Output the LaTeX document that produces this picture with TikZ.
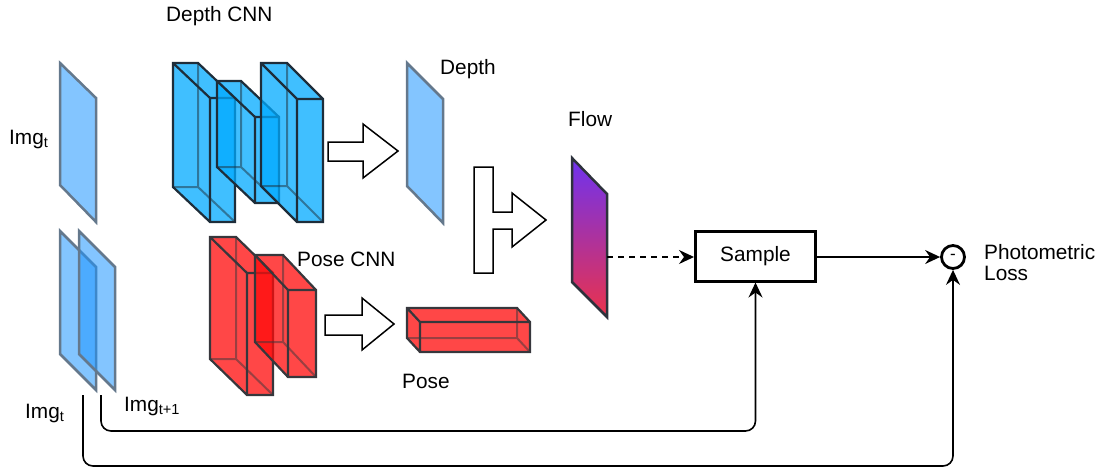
\documentclass[tikz,border=0pt]{standalone}
\usepackage{fontspec}
\setmainfont{Liberation Sans}
\usetikzlibrary{arrows.meta}

\definecolor{edgeblue}{RGB}{30,45,58}
\definecolor{edgered}{RGB}{55,55,60}
\definecolor{cnnblue}{RGB}{0,170,255}
\definecolor{cnnred}{RGB}{255,10,10}
\definecolor{planefill}{RGB}{30,150,255}
\definecolor{planeedge}{RGB}{100,120,140}
\definecolor{flowtop}{RGB}{110,50,240}
\definecolor{flowbot}{RGB}{235,50,75}
\definecolor{flowedge}{RGB}{45,50,60}

% transparent box: #1 fill, #2 edge colour, (#3,#4) front top-left,
% (#5,#6) front bottom-right, (#7,#8) offset of the back face
\newcommand\cuboid[8]{%
  \fill[#1, fill opacity=0.75]
    ({#3+(#7)},{#4+(#8)}) -- ({#5+(#7)},{#4+(#8)}) -- (#5,#4) -- (#5,#6)
    -- (#3,#6) -- ({#3+(#7)},{#6+(#8)}) -- cycle;
  \draw[#2, line width=2pt, draw opacity=0.5]
    ({#5+(#7)},{#4+(#8)}) -- ({#5+(#7)},{#6+(#8)}) -- ({#3+(#7)},{#6+(#8)})
    ({#5+(#7)},{#6+(#8)}) -- (#5,#6);
  \draw[#2, line width=2.2pt]
    ({#3+(#7)},{#4+(#8)}) -- ({#5+(#7)},{#4+(#8)}) -- (#5,#4) -- (#5,#6)
    -- (#3,#6) -- ({#3+(#7)},{#6+(#8)}) -- cycle
    ({#3+(#7)},{#4+(#8)}) -- (#3,#4) -- (#5,#4)
    (#3,#4) -- (#3,#6);
}

\tikzset{
  lbl/.style={inner sep=0pt, anchor=base west, font=\fontsize{20.8}{24}\selectfont},
  plane/.style={fill=planefill, fill opacity=0.55, draw=planeedge, line width=2.5pt},
  hollow/.style={fill=white, draw=black, line width=1.5pt},
  samplebox/.style={draw=black, line width=3pt, minimum width=120pt, minimum height=50pt,
    inner sep=0pt, font=\fontsize{20.8}{24}\selectfont},
  minusnode/.style={circle, draw=black, line width=2.8pt, minimum size=23pt, inner sep=0pt,
    font=\fontsize{17}{18}\selectfont},
  conn/.style={line width=1.6pt, -{Stealth[length=15pt,width=14pt,inset=5pt]}},
}

\begin{document}
\begin{tikzpicture}[x=1pt, y=-1pt]
\useasboundingbox (0,0) rectangle (1105,469);

% input frames
\filldraw[plane] (60,63) -- (96,98) -- (96,222) -- (60,185) -- cycle;
\filldraw[plane] (60,231) -- (96,267) -- (96,390) -- (60,354) -- cycle;
\filldraw[plane] (79,231) -- (115,267) -- (115,390) -- (79,354) -- cycle;

% depth network
\cuboid{cnnblue}{edgeblue}{210}{98}{235}{222}{-37}{-35}
\cuboid{cnnblue}{edgeblue}{255}{117}{279}{203}{-38}{-36}
\cuboid{cnnblue}{edgeblue}{297}{99}{323}{222}{-36}{-36}

% pose network
\cuboid{cnnred}{edgered}{247}{273}{273}{395}{-37}{-36}
\cuboid{cnnred}{edgered}{288}{290}{316}{377}{-33}{-35}
\cuboid{cnnred}{edgered}{420}{322}{530}{352}{-13}{-14}

% predicted depth map
\filldraw[plane] (407,63) -- (443,99) -- (443,223) -- (407,186) -- cycle;

% flow field
\shade[top color=flowtop, bottom color=flowbot]
  (572,158) -- (607,194) -- (607,317) -- (572,282) -- cycle;
\draw[flowedge, line width=2.5pt]
  (572,158) -- (607,194) -- (607,317) -- (572,282) -- cycle;

% block arrows
\draw[hollow] (328,142) -- (363,142) -- (363,124) -- (398,151) -- (363,178)
  -- (363,161) -- (328,161) -- cycle;
\draw[hollow] (474,167) -- (493,167) -- (493,212) -- (512,212) -- (512,193)
  -- (546,220) -- (512,247) -- (512,229) -- (493,229) -- (493,273) -- (474,273) -- cycle;
\draw[hollow] (325,315) -- (362,315) -- (362,298) -- (394,324) -- (362,350)
  -- (362,335) -- (325,335) -- cycle;

% labels
\node[lbl] (tdepthcnn) at (166,21) {Depth CNN};
\node[lbl] (timgt) at (9,144) {Img\textsubscript{t}};
\node[lbl] (timgtb) at (25,418) {Img\textsubscript{t}};
\node[lbl] (timgt1) at (124,411) {Img\textsubscript{t+1}};
\node[lbl] (tdepth) at (440,74) {Depth};
\node[lbl] (tflow) at (568,126) {Flow};
\node[lbl] (tposecnn) at (297,266) {Pose CNN};
\node[lbl] (tpose) at (402,388) {Pose};
\node[lbl] (tphoto) at (984,259) {Photometric};
\node[lbl] (tloss) at (984,280) {Loss};

% sampling and loss
\node[samplebox] (sample) at (755.5,256) {Sample};
\node[minusnode] (minus) at (953,257) {\raisebox{-4pt}{-}};

\coordinate (flowout) at (607,257);
\coordinate (imgA) at (83,395);
\coordinate (imgB) at (101,395);

\draw[conn, dash pattern=on 6pt off 5pt] (flowout) -- (sample.west |- flowout);
\draw[conn] (sample.east |- minus) -- (minus.west);
\draw[conn, rounded corners=10pt] (imgB) -- (101,431) -| (sample.south);
\draw[conn, rounded corners=10pt] (imgA) -- (83,466) -| (minus.south);
\end{tikzpicture}
\end{document}
